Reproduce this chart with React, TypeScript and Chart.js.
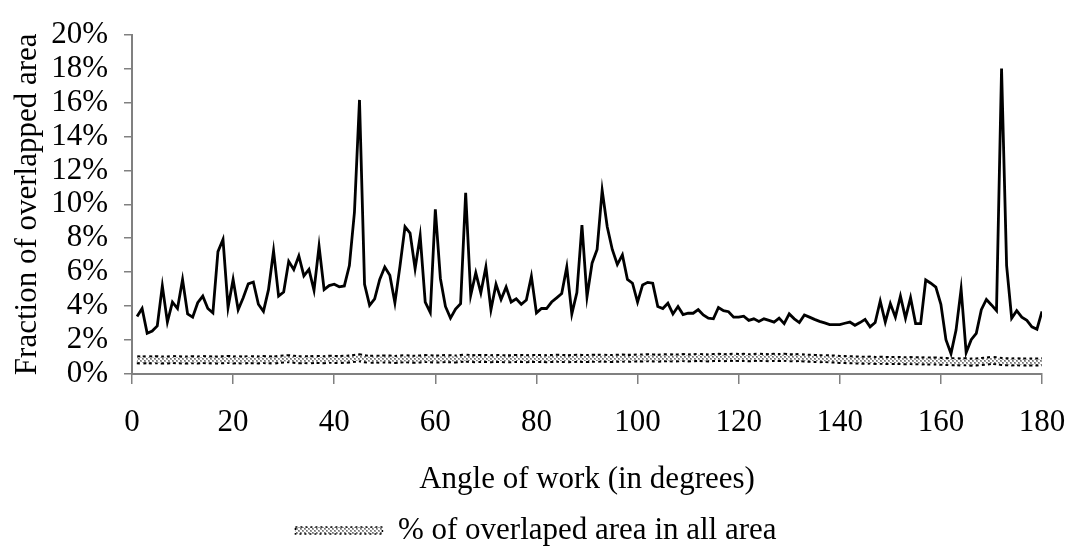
import React, { useEffect, useRef } from 'react';
import { Chart, registerables } from 'chart.js';

Chart.register(...registerables);

// Angle of work, in degrees
const angles = [
  1, 2, 3, 4, 5, 6, 7, 8, 9, 10,
  11, 12, 13, 14, 15, 16, 17, 18, 19, 20,
  21, 22, 23, 24, 25, 26, 27, 28, 29, 30,
  31, 32, 33, 34, 35, 36, 37, 38, 39, 40,
  41, 42, 43, 44, 45, 46, 47, 48, 49, 50,
  51, 52, 53, 54, 55, 56, 57, 58, 59, 60,
  61, 62, 63, 64, 65, 66, 67, 68, 69, 70,
  71, 72, 73, 74, 75, 76, 77, 78, 79, 80,
  81, 82, 83, 84, 85, 86, 87, 88, 89, 90,
  91, 92, 93, 94, 95, 96, 97, 98, 99, 100,
  101, 102, 103, 104, 105, 106, 107, 108, 109, 110,
  111, 112, 113, 114, 115, 116, 117, 118, 119, 120,
  121, 122, 123, 124, 125, 126, 127, 128, 129, 130,
  131, 132, 133, 134, 135, 136, 137, 138, 139, 140,
  141, 142, 143, 144, 145, 146, 147, 148, 149, 150,
  151, 152, 153, 154, 155, 156, 157, 158, 159, 160,
  161, 162, 163, 164, 165, 166, 167, 168, 169, 170,
  171, 172, 173, 174, 175, 176, 177, 178, 179, 180,
];

// Fraction of overlapped area (%) - black line
const overlapFraction = [
  3.39, 3.86, 2.40, 2.53, 2.83, 5.19, 3.06, 4.24, 3.86, 5.57,
  3.54, 3.35, 4.20, 4.59, 3.86, 3.60, 7.21, 7.93, 3.92, 5.57,
  3.79, 4.49, 5.31, 5.42, 4.11, 3.69, 4.97, 7.25, 4.59, 4.83,
  6.64, 6.16, 6.96, 5.78, 6.16, 4.93, 7.53, 4.97, 5.21, 5.29,
  5.14, 5.19, 6.39, 9.53, 16.15, 5.29, 4.05, 4.43, 5.57, 6.30,
  5.82, 4.20, 6.34, 8.68, 8.30, 6.20, 8.14, 4.24, 3.63, 9.70,
  5.63, 3.98, 3.29, 3.82, 4.15, 10.67, 4.64, 5.96, 4.78, 6.30,
  3.79, 5.29, 4.39, 5.12, 4.24, 4.43, 4.11, 4.36, 5.76, 3.60,
  3.86, 3.86, 4.24, 4.49, 4.74, 6.30, 3.54, 4.80, 8.77, 4.55,
  6.53, 7.34, 10.83, 8.68, 7.34, 6.45, 7.02, 5.57, 5.35, 4.24,
  5.25, 5.40, 5.35, 3.98, 3.86, 4.17, 3.54, 3.98, 3.50, 3.58,
  3.58, 3.79, 3.48, 3.29, 3.25, 3.92, 3.73, 3.67, 3.35, 3.35,
  3.41, 3.16, 3.25, 3.10, 3.25, 3.16, 3.06, 3.29, 2.97, 3.54,
  3.25, 3.03, 3.48, 3.35, 3.22, 3.10, 3.01, 2.91, 2.91, 2.91,
  2.99, 3.06, 2.87, 3.03, 3.22, 2.78, 3.03, 4.30, 3.06, 4.15,
  3.35, 4.59, 3.29, 4.49, 2.97, 2.97, 5.54, 5.35, 5.12, 4.11,
  2.02, 1.20, 2.59, 5.00, 1.26, 2.02, 2.40, 3.79, 4.39, 4.07,
  3.73, 18.0, 6.39, 3.29, 3.73, 3.35, 3.16, 2.78, 2.64, 3.69,
];

// % of overlaped area in all area - patterned band
const overlapAreaShare = [
  0.84, 0.82, 0.85, 0.83, 0.84, 0.82, 0.83, 0.85, 0.84, 0.83,
  0.82, 0.84, 0.83, 0.85, 0.84, 0.82, 0.83, 0.84, 0.86, 0.83,
  0.84, 0.82, 0.85, 0.84, 0.83, 0.85, 0.84, 0.82, 0.86, 0.88,
  0.90, 0.87, 0.84, 0.85, 0.83, 0.86, 0.85, 0.84, 0.87, 0.86,
  0.85, 0.87, 0.88, 0.92, 0.95, 0.90, 0.86, 0.88, 0.87, 0.89,
  0.88, 0.86, 0.89, 0.90, 0.88, 0.87, 0.89, 0.91, 0.90, 0.88,
  0.89, 0.91, 0.90, 0.88, 0.92, 0.94, 0.91, 0.90, 0.92, 0.91,
  0.90, 0.92, 0.91, 0.89, 0.90, 0.92, 0.91, 0.90, 0.92, 0.91,
  0.92, 0.90, 0.91, 0.93, 0.92, 0.90, 0.91, 0.93, 0.92, 0.91,
  0.93, 0.92, 0.94, 0.92, 0.91, 0.93, 0.94, 0.92, 0.93, 0.95,
  0.94, 0.96, 0.95, 0.93, 0.95, 0.96, 0.94, 0.95, 0.97, 0.95,
  0.96, 0.98, 0.96, 0.95, 0.97, 0.98, 0.96, 0.97, 0.99, 0.97,
  0.98, 0.96, 0.97, 0.99, 0.97, 0.96, 0.98, 0.97, 0.99, 0.96,
  0.95, 0.97, 0.94, 0.93, 0.92, 0.90, 0.91, 0.89, 0.88, 0.86,
  0.85, 0.84, 0.83, 0.82, 0.81, 0.82, 0.80, 0.81, 0.80, 0.79,
  0.80, 0.79, 0.78, 0.79, 0.78, 0.77, 0.78, 0.76, 0.77, 0.75,
  0.74, 0.72, 0.73, 0.71, 0.72, 0.70, 0.71, 0.73, 0.76, 0.80,
  0.78, 0.74, 0.72, 0.71, 0.72, 0.70, 0.71, 0.70, 0.71, 0.72,
];

const xTitle = 'Angle of work (in degrees)';
const yTitle = 'Fraction of overlapped area';
const bandLabel = '% of overlaped area in all area';

const FONT_FAMILY = "'Times New Roman', 'Liberation Serif', 'DejaVu Serif', serif";

export default function App() {
  const ref = useRef<HTMLCanvasElement>(null);

  useEffect(() => {
    document.body.style.margin = '0';
    const canvas = ref.current;
    if (!canvas) return;

    const tile = document.createElement('canvas');
    tile.width = 4;
    tile.height = 4;
    const tctx = tile.getContext('2d')!;
    tctx.fillStyle = '#ffffff';
    tctx.fillRect(0, 0, 4, 4);
    tctx.fillStyle = '#a0a0a0';
    tctx.fillRect(0, 0, 2, 2);
    tctx.fillRect(2, 2, 2, 2);
    tctx.fillStyle = '#707070';
    tctx.fillRect(0, 0, 1, 1);
    tctx.fillRect(2, 2, 1, 1);
    const pattern = canvas.getContext('2d')!.createPattern(tile, 'repeat')!;

    const lineData = angles.map((a, i) => ({ x: a, y: overlapFraction[i] }));
    const bandData = angles.map((a, i) => ({ x: a, y: overlapAreaShare[i] }));

    const font = { family: FONT_FAMILY, size: 31 };

    const chart = new Chart(canvas, {
      type: 'line',
      data: {
        datasets: [
          {
            label: yTitle,
            data: lineData,
            borderColor: '#000000',
            backgroundColor: '#000000',
            borderWidth: 2.8,
            pointRadius: 0,
            tension: 0,
          },
          {
            label: bandLabel,
            data: bandData,
            borderColor: pattern as any,
            backgroundColor: pattern as any,
            borderWidth: 5,
            pointRadius: 0,
            tension: 0,
          },
          {
            label: 'band-edge',
            data: bandData,
            borderColor: '#000000',
            backgroundColor: '#000000',
            borderWidth: 9,
            borderDash: [3, 3],
            pointRadius: 0,
            tension: 0,
          },
        ],
      },
      options: {
        animation: false,
        responsive: false,
        layout: { padding: { top: 23, left: 0, right: 0, bottom: 0 } },
        scales: {
          x: {
            type: 'linear',
            min: 0,
            max: 180,
            ticks: { stepSize: 20, padding: 20, color: '#000', font, autoSkip: false, maxRotation: 0 },
            grid: {
              drawOnChartArea: false,
              drawTicks: true,
              tickLength: 10,
              color: '#808080',
              lineWidth: 1.5,
            },
            border: { display: true, color: '#808080', width: 2 },
            title: {
              display: true,
              text: xTitle,
              color: '#000',
              font,
              padding: { top: 0, bottom: 0 },
            },
            afterFit: (s: any) => {
              s.height = 124;
              s.paddingRight = 30;
            },
          },
          y: {
            min: 0,
            max: 20,
            ticks: {
              stepSize: 2,
              padding: 16,
              color: '#000',
              font,
              autoSkip: false,
              callback: (v: any) => `${v}%`,
            },
            grid: {
              drawOnChartArea: false,
              drawTicks: true,
              tickLength: 8,
              color: '#808080',
              lineWidth: 1.5,
            },
            border: { display: true, color: '#808080', width: 2 },
            title: {
              display: true,
              text: yTitle,
              color: '#000',
              font,
              padding: { top: 9, bottom: 0 },
            },
            afterFit: (s: any) => {
              s.width = 132;
            },
          },
        },
        plugins: {
          legend: {
            position: 'bottom',
            maxHeight: 48,
            labels: {
              padding: 17,
              boxWidth: 87,
              boxHeight: 7,
              color: '#000',
              font,
              filter: (item: any) => item.datasetIndex === 1,
              generateLabels: (c: any) => {
                const items = Chart.defaults.plugins.legend.labels.generateLabels(c);
                return items.map((it: any) => ({
                  ...it,
                  fillStyle: pattern,
                  strokeStyle: '#000000',
                  lineWidth: 1.5,
                  lineDash: [2, 3],
                }));
              },
            },
          } as any,
          tooltip: { enabled: false },
        },
      },
    });

    return () => chart.destroy();
  }, []);

  return (
    <div style={{ width: 1072, height: 546 }}>
      <canvas ref={ref} width={1072} height={546} style={{ display: 'block' }} />
    </div>
  );
}
